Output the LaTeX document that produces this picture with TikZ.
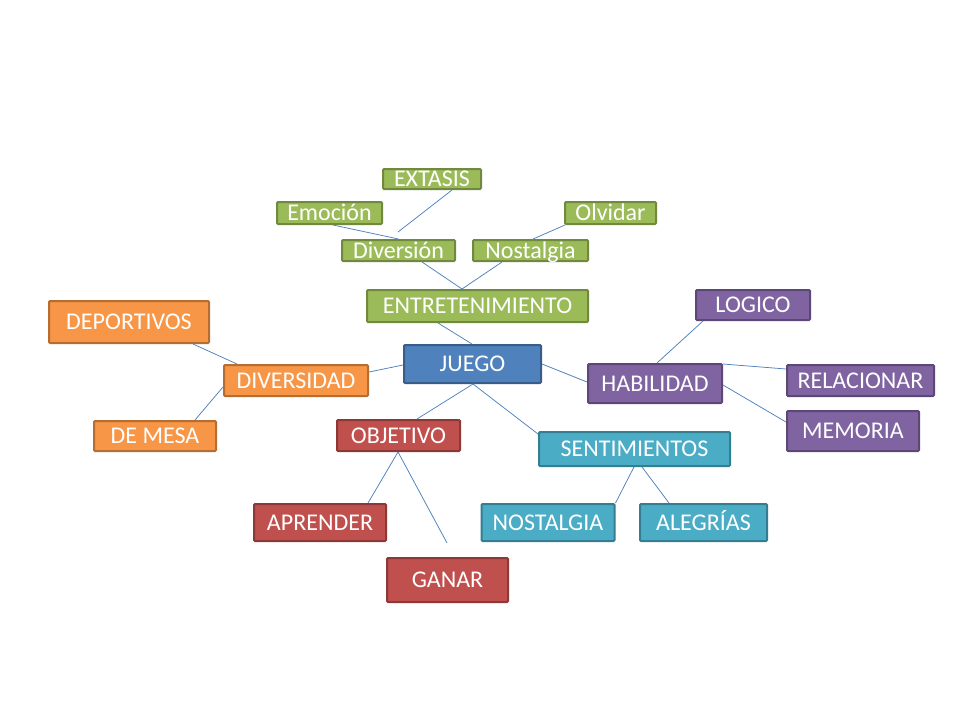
\documentclass[tikz,border=0pt]{standalone}
\usepackage{fontspec}
\setmainfont{Carlito}
\usepackage{tikz}
\usetikzlibrary{calc}

\definecolor{grnfill}{HTML}{9BBB59}\definecolor{grnline}{HTML}{71893F}
\definecolor{orgfill}{HTML}{F79646}\definecolor{orgline}{HTML}{B66D31}
\definecolor{blufill}{HTML}{4F81BD}\definecolor{bluline}{HTML}{385D8A}
\definecolor{purfill}{HTML}{8064A2}\definecolor{purline}{HTML}{5C4776}
\definecolor{redfill}{HTML}{C0504D}\definecolor{redline}{HTML}{8C3836}
\definecolor{tealfill}{HTML}{4BACC6}\definecolor{tealline}{HTML}{357D91}

\tikzset{
    box/.style={draw,line width=2pt,rounded corners=1pt,inner sep=0pt,text=white,
        text height=15.5pt,text depth=0pt,font=\fontsize{24}{28}\selectfont},
    grnbox/.style={box,fill=grnfill,draw=grnline},
    orgbox/.style={box,fill=orgfill,draw=orgline},
    blubox/.style={box,fill=blufill,draw=bluline},
    purbox/.style={box,fill=purfill,draw=purline},
    redbox/.style={box,fill=redfill,draw=redline},
    tealbox/.style={box,fill=tealfill,draw=tealline},
    link/.style={draw=blufill,line width=0.75pt}
}

\begin{document}
\begin{tikzpicture}[x=1pt,y=-1pt]
    \fill[white](0,0)rectangle(960,720);
    \useasboundingbox(0,0)rectangle(960,720);
    % boxes: name/x/y/width/height/text
    \foreach \n/\x/\y/\w/\h/\t in {
        extasis/432/179/98/20/EXTASIS,
        emocion/329.5/213/105/22/Emoción,
        olvidar/610.5/213/91/22/Olvidar,
        diversion/398.5/250.5/113/21/Diversión,
        nostalgia/530.5/250.5/115/21/Nostalgia,
        entre/477.5/306/221/32/ENTRETENIMIENTO}
        \node[grnbox,minimum width=\w,minimum height=\h](\n)at(\x,\y){\t};
    \foreach \n/\x/\y/\w/\h/\t in {
        deportivos/129/322/160/42/DEPORTIVOS,
        diversidad/296/380.5/144/31/DIVERSIDAD,
        demesa/155/436/122/30/DE MESA}
        \node[orgbox,minimum width=\w,minimum height=\h](\n)at(\x,\y){\t};
    \node[blubox,minimum width=137,minimum height=38](juego)at(472.5,364){JUEGO};
    \foreach \n/\x/\y/\w/\h/\t in {
        logico/753/305/114/30/LOGICO,
        habilidad/655/383.5/134/39/HABILIDAD,
        relacionar/860.5/380.5/147/31/RELACIONAR,
        memoria/853/431/132/40/MEMORIA}
        \node[purbox,minimum width=\w,minimum height=\h](\n)at(\x,\y){\t};
    \foreach \n/\x/\y/\w/\h/\t in {
        objetivo/398.5/435.5/123/31/OBJETIVO,
        aprender/320/522.5/132/37/APRENDER,
        ganar/447.5/580/121/44/GANAR}
        \node[redbox,minimum width=\w,minimum height=\h](\n)at(\x,\y){\t};
    \foreach \n/\x/\y/\w/\h/\t in {
        sentimientos/634.5/449/191/34/SENTIMIENTOS,
        nostalgiab/548/522.5/133/37/NOSTALGIA,
        alegrias/703.5/522.5/127/37/ALEGRÍAS}
        \node[tealbox,minimum width=\w,minimum height=\h](\n)at(\x,\y){\t};
    % loose ends
    \coordinate(extasisend)at(398,232);
    \coordinate(ganarend)at(447,543);
    % connectors: from/dx/dy/to/dx/dy
    \foreach \a/\ax/\ay/\b/\bx/\by in {
        extasis.south/20/0/extasisend/0/0,
        emocion.south/3.5/0/diversion.north/0/0,
        olvidar.south/-45.5/0/nostalgia.north/2.5/0,
        diversion.south/23.5/0/entre.north/-15.5/0,
        nostalgia.south/-28.5/0/entre.north/-15.5/0,
        entre.south/-39.5/0/juego.north/-0.5/0,
        juego.west/0/1/diversidad.east/0/-8.5,
        deportivos.south/64/0/diversidad.north/-59/0,
        demesa.north/40/0/diversidad.west/0/6.5,
        juego.east/0/0/habilidad.west/0/-1.5,
        logico.south/-50/0/habilidad.north/2/0,
        habilidad.east/0/-19.5/relacionar.west/0/-11.5,
        habilidad.east/0/1.5/memoria.west/0/-9,
        juego.south/0.5/0/objetivo.north/18.5/0,
        juego.south/0.5/0/sentimientos.west/0/-15,
        objetivo.south/-0.5/0/aprender.north/48/0,
        objetivo.south/-0.5/0/ganarend/0/0,
        sentimientos.south/-0.5/0/nostalgiab.north east/0/0,
        sentimientos.south/7.5/0/alegrias.north/-34.5/0}
        \draw[link]($(\a)+(\ax,\ay)$)--($(\b)+(\bx,\by)$);
\end{tikzpicture}
\end{document}
